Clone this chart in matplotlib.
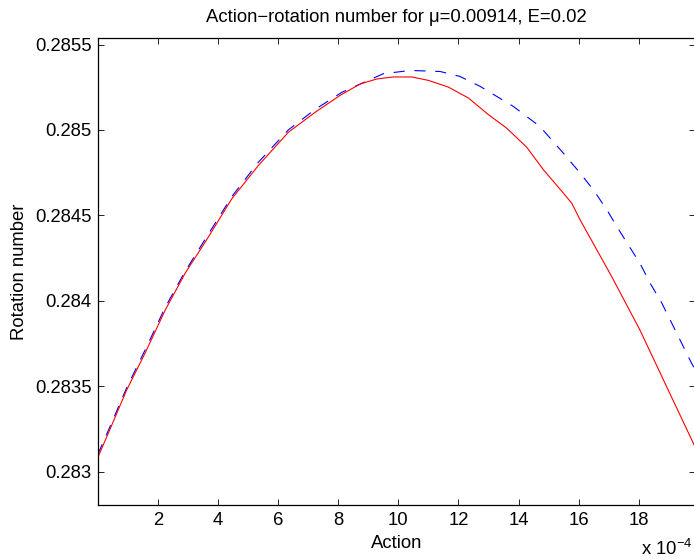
import matplotlib
matplotlib.use("Agg")
import matplotlib.pyplot as plt

plt.rcParams['font.family'] = ['Liberation Sans', 'DejaVu Sans']
plt.rcParams['font.size'] = 13.3
plt.rcParams['lines.scale_dashes'] = False

# action in units of 1e-4
action_red = [0.0, 0.02, 0.35, 0.96, 1.57, 2.24, 2.90, 3.68, 4.46, 5.34, 6.34,
              7.23, 8.06, 8.73, 9.28, 9.83, 10.45, 11.0, 11.66, 12.33, 13.0,
              13.6, 14.27, 14.83, 15.4, 15.77, 16.05, 17.1, 18.04, 19.87]
rot_red = [0.28302, 0.28309, 0.283224, 0.283477, 0.283692, 0.283944, 0.284159,
           0.284373, 0.284597, 0.284791, 0.284986, 0.285103, 0.285202, 0.285269,
           0.285298, 0.28531, 0.28531, 0.28529, 0.285251, 0.285187, 0.285089,
           0.285011, 0.284899, 0.284766, 0.284649, 0.284571, 0.284473, 0.284141,
           0.283828, 0.283145]

action_blue = [0.0, 0.35, 0.96, 1.57, 2.24, 2.90, 3.68, 4.46, 5.34, 6.34, 7.23,
               8.12, 9.5, 10.4, 11.39, 12.05, 12.72, 13.83, 14.71, 15.49, 16.05,
               16.49, 16.94, 17.27, 17.65, 18.04, 18.38, 18.77, 19.10, 19.43,
               19.76, 19.87]
rot_blue = [0.2831, 0.28324, 0.28349, 0.28371, 0.28396, 0.28417, 0.28439,
            0.28461, 0.28481, 0.285, 0.28512, 0.28522, 0.285329, 0.285348,
            0.285342, 0.285313, 0.285255, 0.285137, 0.28502, 0.284864, 0.284747,
            0.284649, 0.284532, 0.284434, 0.284327, 0.284219, 0.284102, 0.283985,
            0.283868, 0.28375, 0.283633, 0.2836]

xticks = [2, 4, 6, 8, 10, 12, 14, 16, 18]
yticks = [0.283, 0.2835, 0.284, 0.2845, 0.285, 0.2855]
ytick_labels = ['0.283', '0.2835', '0.284', '0.2845', '0.285', '0.2855']

fig = plt.figure(figsize=(6.94, 5.59), dpi=100)
ax = fig.add_axes([0.1409, 0.0966, 0.8605, 0.8354])

ax.plot(action_blue, rot_blue, color='blue', linestyle=(0, (8, 7)), linewidth=0.8)
ax.plot(action_red, rot_red, color='red', linewidth=0.8)

ax.set_xlim(0, 19.87)
ax.set_ylim(0.282804, 0.285538)
ax.set_xticks(xticks)
ax.set_yticks(yticks)
ax.set_yticklabels(ytick_labels)
ax.tick_params(direction='in', length=4.5, width=0.6, top=True, right=True,
               labelsize=13.3)
ax.tick_params(axis='x', pad=5)
ax.tick_params(axis='y', pad=4.3)
for sp in ax.spines.values():
    sp.set_linewidth(0.9)

ax.set_xlabel('Action', labelpad=4)
ax.set_ylabel('Rotation number', labelpad=5.5)
fig.text(0.5712, 1 - 21.5 / 559, 'Action\u2212rotation number for \u03bc=0.00914, E=0.02',
         ha='center', va='baseline', fontsize=13.3)
# exponent label, tucked into the bottom-right corner
fig.text(0.998, 4 / 559, 'x 10$^{\\mathregular{\u22124}}$', ha='right',
         va='baseline', fontsize=13.3)

fig.savefig('out.png', dpi=100)
